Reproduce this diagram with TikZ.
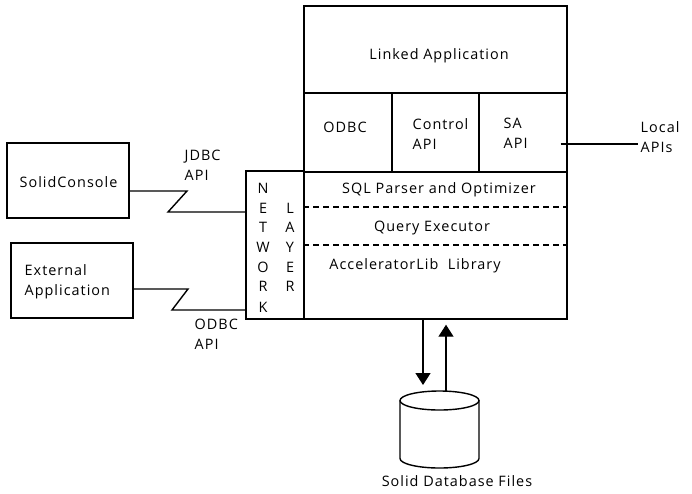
\documentclass[tikz,border=0pt]{standalone}
\usepackage{fontspec}
\setmainfont{Open Sans}[LetterSpace=7]
\usetikzlibrary{arrows.meta}
\begin{document}
\begin{tikzpicture}[x=1pt,y=-1pt,
  line width=1.4pt,
  box/.style={draw, rectangle, inner sep=0pt},
  lbl/.style={font=\fontsize{14.4}{20}\selectfont, inner sep=0pt},
  letter/.style={font=\fontsize{14.4}{20}\selectfont, inner sep=0pt},
  arr/.style={-{Triangle[width=15pt,length=12pt]}},
  dashline/.style={dash pattern=on 6pt off 4pt}
]
\useasboundingbox (0,0) rectangle (692,493);
% main stack
\node[box, minimum width=263pt, minimum height=87pt] (linked) at (435.5,49.5) {};
\node[box, minimum width=88pt, minimum height=79pt] (odbc) at (348,132.5) {};
\node[box, minimum width=87pt, minimum height=79pt] (ctrl) at (435.5,132.5) {};
\node[box, minimum width=88pt, minimum height=79pt] (sa) at (523,132.5) {};
\node[box, minimum width=263pt, minimum height=147pt] (eng) at (435.5,245.5) {};
\draw[dashline] (eng.west |- 0,207) -- (eng.east |- 0,207);
\draw[dashline] (eng.west |- 0,245) -- (eng.east |- 0,245);
% network layer
\node[box, minimum width=58pt, minimum height=148pt] (net) at (275,245) {};
% clients
\node[box, minimum width=122pt, minimum height=75pt] (solid) at (68,180.5) {};
\node[box, minimum width=122pt, minimum height=75pt] (ext) at (72,280.5) {};
% texts
\node[lbl] (tlinked) at (439,56) {Linked Application};
\node[lbl] (todbc) at (345,127) {ODBC};
\node[lbl, anchor=west, align=left] (tctrl) at (412,134) {Control\\API};
\node[lbl, anchor=west, align=left] (tsa) at (503,133) {SA\\API};
\node[lbl] (tsql) at (439,190) {SQL Parser and Optimizer};
\node[lbl] (tqe) at (432,228) {Query Executor};
\node[lbl] (tacc) at (415,266) {AcceleratorLib\ \ Library};
\node[lbl] (tsolid) at (68.5,182) {SolidConsole};
\node[lbl, anchor=west, align=left] (text) at (24,282) {External\\Application};
\node[lbl, anchor=west, align=left] (tjdbc) at (184,165) {JDBC\\API};
\node[lbl, anchor=west, align=left] (todbcapi) at (194,334) {ODBC\\API};
\node[lbl, anchor=west, align=left] (tlocal) at (640,137) {Local\\APIs};
\node[lbl] (tdb) at (457,481) {Solid Database Files};
% network letters
\foreach \ch/\yy [count=\i] in {N/188,E/208,T/227,W/247,O/267,R/286,K/307}
  \node[letter] (nw\i) at (263,\yy) {\ch};
\foreach \ch/\yy [count=\i] in {L/208,A/227,Y/247,E/267,R/286}
  \node[letter] (ly\i) at (290,\yy) {\ch};
% zigzag connectors
\draw ([yshift=-10.5pt]solid.east) -- (187,191) -- (168,212) -- (net.west |- 0,212);
\draw ([yshift=-8.5pt]ext.east) -- (188,289) -- (172,310) -- (net.west |- 0,310);
% local APIs
\coordinate (localend) at (638,144);
\draw ([xshift=-7pt]sa.east |- localend) -- (localend);
% database cylinder
\coordinate (dbtop) at (446,391);
\coordinate (dnend) at (423,385);
\draw (400,400.5) -- (400,458.5) arc (180:360:39.5pt and 9.5pt) -- (479,400.5);
\draw (439.5,400.5) ellipse [x radius=39.5pt, y radius=9.5pt];
% arrows
\draw[arr] (dnend |- eng.south) -- (dnend);
\draw[arr] (dbtop) -- ([yshift=-5pt]dbtop |- eng.south);
\end{tikzpicture}
\end{document}
